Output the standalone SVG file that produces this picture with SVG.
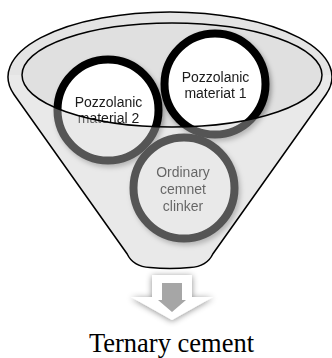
<svg xmlns="http://www.w3.org/2000/svg" width="332" height="358" viewBox="0 0 332 358">
<style>
.ring{fill:#ffffff;stroke:#000000;stroke-width:8}
.lbl{font-family:"Liberation Sans",Arial,sans-serif;font-size:14px;fill:#1a1a1a;text-anchor:middle}
.edge{fill:none;stroke:#000000;stroke-width:1.5}
</style>
<defs>
<filter id="sh" x="-20%" y="-20%" width="150%" height="150%">
<feDropShadow dx="2" dy="3" stdDeviation="2.5" flood-color="#000" flood-opacity="0.35"/>
</filter>
<filter id="ash" x="-30%" y="-30%" width="160%" height="160%">
<feDropShadow dx="0" dy="1" stdDeviation="3" flood-color="#000" flood-opacity="0.45"/>
</filter>
</defs>
<g id="funnel-back">
<path d="M 8.1,75 A 162 65 0 0 1 331.9,75 Z" fill="#e4e4e4"/>
<ellipse cx="172" cy="75" rx="150" ry="52" fill="#e0e0e0"/>
</g>
<g id="node-ordinary" filter="url(#sh)">
<circle class="ring" cx="184" cy="188" r="50.5"/>
<text class="lbl" x="183" y="176.5">Ordinary</text>
<text class="lbl" x="183" y="194">cemnet</text>
<text class="lbl" x="183" y="211">clinker</text>
</g>
<g id="node-pozz2" filter="url(#sh)">
<circle class="ring" cx="108" cy="110" r="50.5"/>
<text class="lbl" x="108.5" y="106.5">Pozzolanic</text>
<text class="lbl" x="108.5" y="123">material 2</text>
</g>
<g id="node-pozz1" filter="url(#sh)">
<circle class="ring" cx="215" cy="84" r="50.5"/>
<text class="lbl" x="215.5" y="82">Pozzolanic</text>
<text class="lbl" x="215.5" y="98">materiat 1</text>
</g>
<g id="funnel-front">
<path d="M 22,75 A 150 52 0 0 0 322,75 L 331.9,75 A 162 65 0 0 1 326,94.5 L 212.8,254 Q 207,266.5 190,267.5 Q 170,269.5 150,267.5 Q 133,266.5 127.2,254 L 14,94.5 A 162 65 0 0 1 8.1,75 Z" fill="#cacaca" fill-opacity="0.42"/>
</g>
<g id="connectors">
<ellipse class="edge" cx="172" cy="75" rx="150" ry="52"/>
<path class="edge" d="M 14,94.5 A 162 65 0 1 1 326,94.5 L 212.8,254 Q 207,266.5 190,267.5 Q 170,269.5 150,267.5 Q 133,266.5 127.2,254 Z"/>
</g>
<g id="arrow">
<path d="M 152,275 H 192 V 297 H 213 L 172,320 L 131,297 H 152 Z" fill="#ffffff" filter="url(#ash)"/>
<path d="M 162,283 H 182 V 300 H 186 L 172,312 L 158,300 H 162 Z" fill="#a6a6a6"/>
</g>
<g id="node-result">
<text x="171.5" y="352" font-family="'Liberation Serif','Times New Roman',serif" font-size="26.5" fill="#000" text-anchor="middle">Ternary cement</text>
</g>
</svg>
